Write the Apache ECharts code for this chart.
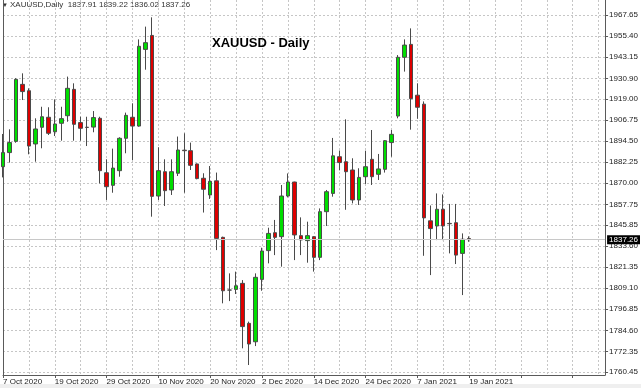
<!DOCTYPE html>
<html>
<head>
<meta charset="utf-8">
<script src="https://cdn.jsdelivr.net/npm/echarts@6/dist/echarts.min.js"></script>
<style>
html,body{margin:0;padding:0;background:#fff;}
#chart{width:641px;height:388px;}
</style>
</head>
<body>
<div id="chart"></div>
<script>
var symbolName = "XAUUSD,Daily";
var chartTitle = "XAUUSD - Daily";

var dates = ["7 Oct 2020","8 Oct 2020","9 Oct 2020","12 Oct 2020","13 Oct 2020","14 Oct 2020","15 Oct 2020","16 Oct 2020","19 Oct 2020","20 Oct 2020","21 Oct 2020","22 Oct 2020","23 Oct 2020","26 Oct 2020","27 Oct 2020","28 Oct 2020","29 Oct 2020","30 Oct 2020","2 Nov 2020","3 Nov 2020","4 Nov 2020","5 Nov 2020","6 Nov 2020","9 Nov 2020","10 Nov 2020","11 Nov 2020","12 Nov 2020","13 Nov 2020","16 Nov 2020","17 Nov 2020","18 Nov 2020","19 Nov 2020","20 Nov 2020","23 Nov 2020","24 Nov 2020","25 Nov 2020","26 Nov 2020","27 Nov 2020","30 Nov 2020","1 Dec 2020","2 Dec 2020","3 Dec 2020","4 Dec 2020","7 Dec 2020","8 Dec 2020","9 Dec 2020","10 Dec 2020","11 Dec 2020","14 Dec 2020","15 Dec 2020","16 Dec 2020","17 Dec 2020","18 Dec 2020","21 Dec 2020","22 Dec 2020","23 Dec 2020","24 Dec 2020","28 Dec 2020","29 Dec 2020","30 Dec 2020","31 Dec 2020","4 Jan 2021","5 Jan 2021","6 Jan 2021","7 Jan 2021","8 Jan 2021","11 Jan 2021","12 Jan 2021","13 Jan 2021","14 Jan 2021","15 Jan 2021","18 Jan 2021","19 Jan 2021"];

var opens = [1879.6,1887.8,1894.3,1927.4,1923.7,1892.8,1902.5,1908.3,1899.9,1904.8,1909.2,1924.5,1905.2,1902.5,1902.6,1907.7,1876.1,1868.8,1877.3,1896.1,1908.3,1903.2,1947.7,1955.8,1862.6,1876.7,1866.1,1875.8,1889.2,1888.9,1881.2,1872.9,1863.2,1871.4,1838.6,1808.0,1808.4,1811.9,1788.7,1778.0,1814.2,1830.9,1841.3,1839.0,1862.6,1870.7,1839.6,1836.7,1839.0,1827.0,1853.5,1864.1,1885.4,1882.5,1877.7,1860.3,1873.8,1883.9,1875.2,1878.1,1893.6,1909.0,1943.1,1950.6,1921.1,1915.9,1848.2,1845.2,1854.9,1846.7,1847.1,1829.3,1837.91];

var closes = [1887.8,1893.6,1930.3,1923.2,1891.6,1901.5,1908.6,1899.0,1904.4,1907.5,1925.1,1904.2,1901.9,1902.4,1908.1,1877.3,1868.0,1878.8,1896.1,1909.4,1903.2,1949.5,1951.6,1862.4,1877.3,1865.7,1876.7,1889.3,1888.9,1880.4,1872.7,1866.5,1871.1,1838.0,1807.6,1808.0,1810.5,1786.8,1776.7,1815.4,1830.7,1840.9,1838.6,1862.6,1870.7,1840.0,1837.1,1839.6,1827.0,1853.5,1865.1,1885.9,1882.0,1876.7,1860.3,1873.4,1879.6,1873.8,1878.3,1894.7,1898.4,1943.1,1950.2,1919.1,1914.1,1849.9,1843.7,1854.9,1845.2,1846.5,1828.3,1837.5,1837.26];

var lows = [1873.4,1882.0,1893.5,1918.3,1886.8,1882.5,1890.3,1898.0,1897.4,1894.7,1905.7,1894.7,1894.7,1891.6,1899.6,1869.9,1860.3,1864.5,1873.8,1887.4,1883.5,1902.8,1935.9,1850.6,1860.3,1856.8,1863.2,1874.2,1864.5,1877.7,1872.3,1853.0,1860.9,1831.2,1800.3,1801.6,1805.7,1774.2,1764.5,1775.5,1807.6,1823.5,1828.3,1821.6,1861.8,1825.4,1828.3,1823.9,1818.7,1825.4,1845.2,1862.2,1877.5,1854.6,1858.3,1857.4,1869.6,1869.0,1871.9,1876.2,1885.4,1907.7,1934.8,1901.1,1907.4,1827.9,1816.7,1837.0,1837.0,1829.3,1823.1,1805.1,1836.02];

var highs = [1898.6,1901.3,1931.0,1933.8,1925.1,1907.7,1914.4,1914.1,1918.7,1914.4,1931.9,1928.0,1908.6,1908.6,1911.9,1908.6,1883.9,1890.1,1896.7,1911.0,1916.4,1953.5,1960.9,1966.3,1890.9,1883.9,1883.9,1897.1,1899.0,1893.6,1881.5,1875.8,1880.0,1876.2,1839.0,1817.7,1818.7,1813.8,1789.7,1817.7,1832.6,1844.2,1848.7,1869.0,1875.7,1870.9,1850.2,1847.7,1839.3,1855.4,1866.1,1896.3,1889.0,1907.1,1884.5,1878.7,1888.9,1900.9,1887.0,1895.1,1900.9,1944.4,1953.5,1959.9,1928.0,1917.5,1857.1,1864.1,1863.5,1858.0,1858.0,1840.9,1839.22];

var priceTicks = [1760.45,1772.35,1784.60,1796.85,1809.10,1821.35,1833.60,1845.85,1857.75,1870.00,1882.25,1894.50,1906.75,1919.00,1930.90,1943.15,1955.40,1967.65];

var candleData = opens.map(function (o, i) { return [o, closes[i], lows[i], highs[i]]; });
var last = dates.length - 1;
var lastClose = closes[last];
var fmt = function (v) { return v.toFixed(2); };
var headerText = symbolName + "  " + [opens[last], highs[last], lows[last], closes[last]].map(fmt).join(" ");

var FONT = "'Liberation Sans', Arial, sans-serif";
var gridColor = '#c6c6c6';
var axisColor = '#5a5a5a';

var chart = echarts.init(document.getElementById('chart'), null, {renderer: 'canvas'});
chart.setOption({
  animation: false,
  backgroundColor: '#ffffff',
  title: {
    text: chartTitle,
    left: 207, top: 32,
    textStyle: {fontFamily: FONT, fontSize: 13, fontWeight: 'bold', color: '#000'}
  },
  graphic: [
    {type: 'rect', left: 0, top: 384, shape: {width: 641, height: 4}, style: {fill: '#efefef'}, silent: true},
    {type: 'text', left: 2, top: 2, style: {text: '\u25BC', fontSize: 6, fill: '#333', fontFamily: FONT}, silent: true},
    {type: 'text', left: 10, top: 1, style: {text: headerText, fontSize: 8, fill: '#333', fontFamily: FONT}, silent: true}
  ],
  grid: {left: 0, right: 35, top: 0, bottom: 13, containLabel: false},
  xAxis: {
    type: 'category',
    data: dates,
    boundaryGap: false,
    max: 93,
    axisLine: {show: true, lineStyle: {color: axisColor, width: 1}},
    axisTick: {show: true, interval: 7, length: 3, lineStyle: {color: axisColor}},
    axisLabel: {
      show: true, interval: 7, align: 'left', margin: 3,
      fontSize: 8, color: '#222', fontFamily: FONT,
      formatter: function (v) { return v || ''; }
    },
    splitLine: {show: true, interval: 3, lineStyle: {color: gridColor, type: [2, 2], width: 1}}
  },
  yAxis: [{
    type: 'value',
    position: 'right',
    min: 1758.71,
    max: 1976.36,
    scale: true,
    axisLine: {show: true, lineStyle: {color: axisColor, width: 1}},
    axisTick: {show: true, length: 3, customValues: priceTicks, lineStyle: {color: axisColor}},
    axisLabel: {
      show: true, margin: 4, customValues: priceTicks,
      fontSize: 8, color: '#222', fontFamily: FONT,
      formatter: function (v) { return v.toFixed(2); }
    },
    splitLine: {show: true, lineStyle: {color: gridColor, type: [2, 2], width: 1}}
  }, {
    type: 'value',
    position: 'left',
    min: 1758.71,
    max: 1976.36,
    axisLine: {show: true, lineStyle: {color: axisColor, width: 1}},
    axisTick: {show: false},
    axisLabel: {show: false},
    splitLine: {show: false}
  }],
  series: [{
    type: 'candlestick',
    name: symbolName,
    data: candleData,
    barWidth: 4,
    itemStyle: {
      color: '#00dd00',
      color0: '#dd0000',
      borderColor: '#4a4a4a',
      borderColor0: '#4a4a4a',
      borderWidth: 1
    },
    markLine: {
      silent: true,
      symbol: 'none',
      lineStyle: {color: '#c8c8c8', type: 'solid', width: 1},
      label: {
        show: true, position: 'end', distance: 2,
        formatter: function () { return fmt(lastClose); },
        backgroundColor: '#000', color: '#fff', fontSize: 8, fontFamily: FONT,
        padding: [1, 2, 0, 2]
      },
      data: [{yAxis: lastClose}]
    }
  }]
});
</script>
</body>
</html>
